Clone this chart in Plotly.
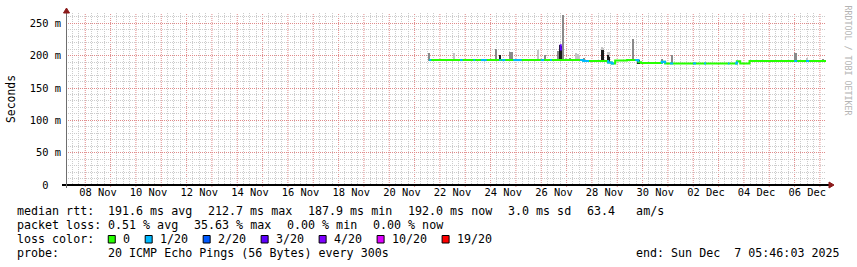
import pandas as pd
import plotly.graph_objects as go

# ---------------- data ----------------
X_START = "2025-11-07 05:46:03"
X_END = "2025-12-07 05:46:03"

# median RTT in ms (step changes)
median_time = ["2025-11-21 13:50", "2025-11-27 15:50", "2025-11-28 15:20",
               "2025-11-28 18:50", "2025-11-28 22:00", "2025-11-29 09:20",
               "2025-11-29 20:00", "2025-11-29 22:40", "2025-11-30 18:10",
               "2025-11-30 21:20", "2025-12-03 17:20", "2025-12-03 20:30",
               "2025-12-04 05:20", "2025-12-07 05:46"]
median_ms = [193.2, 191.7, 189.5, 188.0, 192.6, 193.2, 190.0, 188.8, 190.5,
             188.0, 191.5, 188.0, 191.8, 192.0]

# periods with 1/20 loss (median drawn in loss colour)
loss1_start = ["2025-11-21 13:50", "2025-11-22 19:00", "2025-11-23 07:40",
               "2025-11-23 14:50", "2025-11-24 08:10", "2025-11-24 10:30",
               "2025-11-24 21:30", "2025-11-25 23:30", "2025-11-26 08:20",
               "2025-11-27 12:50", "2025-11-28 14:40", "2025-11-29 17:00",
               "2025-11-30 18:00", "2025-12-01 02:00", "2025-12-01 23:50",
               "2025-12-02 10:20", "2025-12-03 08:50", "2025-12-03 15:40",
               "2025-12-05 23:40", "2025-12-06 10:50"]
loss1_end = ["2025-11-21 15:50", "2025-11-22 21:30", "2025-11-23 09:30",
             "2025-11-23 20:20", "2025-11-24 09:40", "2025-11-24 14:00",
             "2025-11-25 05:30", "2025-11-26 02:40", "2025-11-26 10:00",
             "2025-11-27 21:20", "2025-11-28 21:00", "2025-11-29 20:00",
             "2025-11-30 21:20", "2025-12-01 05:00", "2025-12-02 02:40",
             "2025-12-02 12:10", "2025-12-03 10:20", "2025-12-03 17:20",
             "2025-12-06 02:30", "2025-12-06 13:50"]

# high-loss median excursion (3/20 - 4/20)
loss3_time = ["2025-11-26 17:30", "2025-11-26 18:30", "2025-11-26 19:40"]
loss3_ms = [216.0, 209.5, 209.5]

# smoke (ping spread): dark core, mid grey, light outer
smoke_core_time = ["2025-11-24 08:50", "2025-11-26 18:00", "2025-11-26 19:00",
                   "2025-11-28 09:40", "2025-11-28 10:40", "2025-11-28 15:20",
                   "2025-11-28 16:20", "2025-11-29 20:00", "2025-11-29 21:00"]
smoke_core_low = [192, 192, 192, 190, 190, 189, 189, 187, 187]
smoke_core_high = [200.5, 216, 215, 209.5, 209, 201, 198, 195, 193]

smoke_mid_time = ["2025-11-21 14:00", "2025-11-24 04:50", "2025-11-24 18:30",
                  "2025-11-24 19:30", "2025-11-24 20:30", "2025-11-26 03:30",
                  "2025-11-26 16:20", "2025-11-26 21:00", "2025-11-27 03:20",
                  "2025-11-27 16:50", "2025-11-29 15:20", "2025-11-30 18:10",
                  "2025-12-01 03:40", "2025-12-06 00:30", "2025-12-06 01:30",
                  "2025-12-07 02:50"]
smoke_mid_low = [192, 192, 192, 192, 192, 192, 192, 192, 192, 190, 192, 188,
                 188, 191, 191, 191]
smoke_mid_high = [204.5, 210, 205.5, 206, 205, 200.5, 207.5, 263, 196, 197,
                  226.5, 195, 201, 204, 204, 195]

smoke_light_time = ["2025-11-22 13:30", "2025-11-25 21:00", "2025-11-26 23:50",
                    "2025-11-27 09:10", "2025-11-27 10:10", "2025-11-27 11:10",
                    "2025-11-27 12:10", "2025-11-28 09:40", "2025-11-28 10:40",
                    "2025-11-28 15:20", "2025-11-28 16:20", "2025-12-06 11:40"]
smoke_light_low = [192, 192, 192, 192, 192, 192, 192, 205, 205, 192, 192, 191]
smoke_light_high = [203.5, 208.5, 197, 203.5, 203, 202.5, 201, 214, 212, 206,
                    205, 196]

y_tick_vals = [0, 50, 100, 150, 200, 250]
y_tick_text = ["0\u00a0\u00a0", "50 m", "100 m", "150 m", "200 m", "250 m"]

x_label_days = ["2025-11-08", "2025-11-10", "2025-11-12", "2025-11-14",
                "2025-11-16", "2025-11-18", "2025-11-20", "2025-11-22",
                "2025-11-24", "2025-11-26", "2025-11-28", "2025-11-30",
                "2025-12-02", "2025-12-04", "2025-12-06"]
x_label_text = ["08 Nov", "10 Nov", "12 Nov", "14 Nov", "16 Nov", "18 Nov",
                "20 Nov", "22 Nov", "24 Nov", "26 Nov", "28 Nov", "30 Nov",
                "02 Dec", "04 Dec", "06 Dec"]

median_stats = ["191.6 ms avg", "212.7 ms max", "187.9 ms min",
                "192.0 ms now", "3.0 ms sd", "63.4   am/s"]
loss_stats = ["0.51 % avg", "35.63 % max", "0.00 % min", "0.00 % now"]
loss_labels = ["0", "1/20", "2/20", "3/20", "4/20", "10/20", "19/20"]
loss_colors = ["#26ff00", "#00b8ff", "#0059ff", "#5e00ff", "#7e00ff",
               "#dd00ff", "#ff0000"]
probe_text = "20 ICMP Echo Pings (56 Bytes) every 300s"
end_text = "end: Sun Dec  7 05:46:03 2025"

# ---------------- helpers ----------------
W, H = 857, 267
L, R, T, B = 66, 31, 13, 82
PW, PH = W - L - R, H - T - B
MONO = "DejaVu Sans Mono"


def px(p):
    return (p - L) / PW


def py(q):
    return (H - B - q) / PH


mt = pd.to_datetime(median_time)


def median_at(t):
    idx = mt.searchsorted(pd.Timestamp(t), side="right") - 1
    return median_ms[max(idx, 0)]


loss_x, loss_y = [], []
for s, e in zip(loss1_start, loss1_end):
    s, e = pd.Timestamp(s), pd.Timestamp(e)
    pts = [s] + [m for m in mt if s < m < e] + [e]
    loss_x += pts + [None]
    loss_y += [median_at(p) for p in pts] + [None]

# grid positions: 6-hourly minor lines (non-midnight) and daily major lines
six_hourly = pd.date_range("2025-11-07 06:00", "2025-12-07 06:00", freq="6h")
minor_grid = [t.strftime("%Y-%m-%d %H:%M") for t in six_hourly if t.hour != 0]
major_grid = [t.strftime("%Y-%m-%d %H:%M") for t in six_hourly if t.hour == 0]

HOUR = 3600 * 1000
fig = go.Figure()


def smoke(times, low, high, color):
    fig.add_trace(go.Bar(
        x=times, base=low, y=[h - l for l, h in zip(low, high)],
        width=1.15 * HOUR, marker=dict(color=color, line=dict(width=0)),
        hoverinfo="skip", showlegend=False))


smoke(smoke_light_time, smoke_light_low, smoke_light_high, "#c4c4c4")
smoke(smoke_mid_time, smoke_mid_low, smoke_mid_high, "#8a8a8a")
smoke(smoke_core_time, smoke_core_low, smoke_core_high, "#1a1a1a")

fig.add_trace(go.Scatter(x=median_time, y=median_ms, mode="lines",
                         line=dict(color=loss_colors[0], width=2, shape="hv"),
                         showlegend=False, hoverinfo="skip"))
fig.add_trace(go.Scatter(x=loss_x, y=loss_y, mode="lines",
                         line=dict(color=loss_colors[1], width=2, shape="hv"),
                         showlegend=False, hoverinfo="skip", connectgaps=False))
fig.add_trace(go.Scatter(x=loss3_time, y=loss3_ms, mode="lines",
                         line=dict(color=loss_colors[3], width=2, shape="hv"),
                         showlegend=False, hoverinfo="skip"))

MAJ = "#e08a8a"
MIN = "#cccccc"
DOT = "1px,1px"
tickfont = dict(family=MONO, size=10.4, color="#000000")

fig.update_layout(
    width=W, height=H, margin=dict(l=L, r=R, t=T, b=B, pad=0),
    paper_bgcolor="#ffffff", plot_bgcolor="#ffffff",
    barmode="overlay", bargap=0, showlegend=False,
    xaxis=dict(type="date", range=[X_START, X_END], tickmode="array",
               tickvals=[d + " 12:00" for d in x_label_days],
               ticktext=x_label_text, ticks="", tickfont=tickfont,
               showgrid=True, gridcolor=MIN, griddash=DOT, gridwidth=1,
               zeroline=False, showline=False,
               minor=dict(tickmode="array", tickvals=minor_grid,
                          showgrid=True, gridcolor=MIN, griddash=DOT,
                          gridwidth=1)),
    yaxis=dict(range=[0, 266], tickmode="array", tickvals=y_tick_vals,
               ticktext=y_tick_text, showgrid=True, gridcolor=MAJ,
               griddash=DOT, gridwidth=1, zeroline=False, showline=False,
               ticks="", tickfont=tickfont, ticklabelstandoff=4,
               minor=dict(tickmode="linear", tick0=0, dtick=10, showgrid=True,
                          gridcolor=MIN, griddash=DOT, gridwidth=1)),
)

XAX = "#000000"
YAX = "#6e6e6e"
ARROW = "#8b1a1a"
shapes = []
# daily (midnight) major grid lines, red dotted, between grid and data
for t in major_grid:
    shapes.append(dict(type="line", xref="x", yref="paper", x0=t, x1=t,
                       y0=py(187), y1=1, layer="between",
                       line=dict(color=MAJ, width=1, dash=DOT)))
shapes += [
    dict(type="line", xref="paper", yref="paper", x0=px(62), x1=px(830),
         y0=py(185), y1=py(185), line=dict(color=XAX, width=2)),
    dict(type="line", xref="paper", yref="paper", x0=px(66.5), x1=px(66.5),
         y0=py(188), y1=py(12), line=dict(color=YAX, width=1)),
    dict(type="path", xref="paper", yref="paper", fillcolor=ARROW,
         line=dict(color=ARROW, width=1),
         path=f"M {px(829)} {py(182)} L {px(834)} {py(185)} "
              f"L {px(829)} {py(188)} Z"),
    dict(type="path", xref="paper", yref="paper", fillcolor=ARROW,
         line=dict(color=ARROW, width=1),
         path=f"M {px(63.5)} {py(13)} L {px(66.5)} {py(8)} "
              f"L {px(69.5)} {py(13)} Z"),
]

annotations = []


def text(s, x, y, size=11.66, color="#000000", anchor="left", angle=0):
    annotations.append(dict(text=s, xref="paper", yref="paper", x=px(x),
                            y=py(y), xanchor=anchor, yanchor="middle",
                            showarrow=False, borderpad=0, textangle=angle,
                            font=dict(family=MONO, size=size, color=color)))


CW = 7.02
GAP = 15.8
LINE_Y = [211.2, 225.2, 239.2, 253.2]
X0 = 15.5
XCOL = X0 + 13 * CW

text("median rtt:", X0, LINE_Y[0])
x = XCOL
for s in median_stats:
    text(s, x, LINE_Y[0])
    x += len(s) * CW + GAP

text("packet loss:", X0, LINE_Y[1])
x = XCOL
for s in loss_stats:
    text(s, x, LINE_Y[1])
    x += len(s) * CW + GAP

text("loss color:", X0, LINE_Y[2])
x = XCOL + 1.5
for lab, col in zip(loss_labels, loss_colors):
    shapes.append(dict(type="rect", xref="paper", yref="paper",
                       x0=px(x), x1=px(x + 7), y0=py(243), y1=py(235.5),
                       fillcolor=col, line=dict(color="#000000", width=1)))
    text(lab, x + 14.1, LINE_Y[2])
    x += 14.1 + len(lab) * CW + GAP

text("probe:", X0, LINE_Y[3])
text(probe_text, XCOL, LINE_Y[3])
text(end_text, 841, LINE_Y[3], anchor="right")

text("Seconds", 11, 99, size=11.4, angle=-90, anchor="center")
text("RRDTOOL / TOBI OETIKER", 847.5, 60, size=8.3, color="#b4b4b4",
     anchor="center", angle=90)

fig.update_layout(shapes=shapes, annotations=annotations)

CRISP = ("document.querySelectorAll('.gridlayer path').forEach("
         "function(p){p.style.shapeRendering='crispEdges';});")
fig.write_html("out.html", post_script=CRISP)
